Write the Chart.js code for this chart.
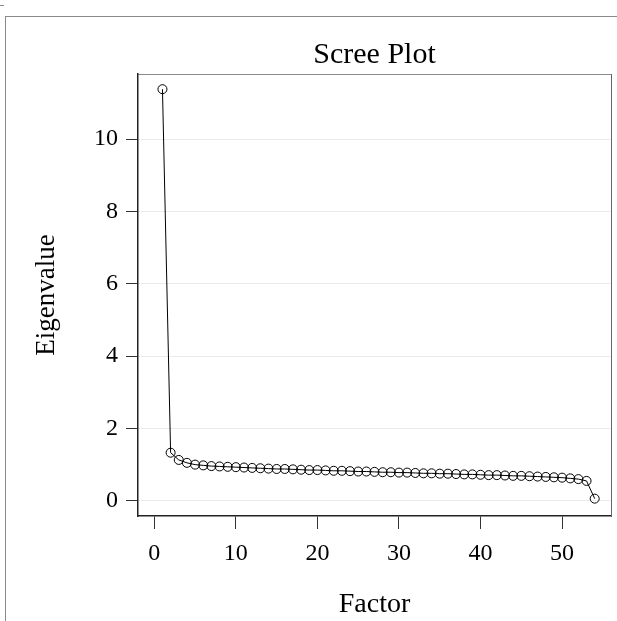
<!DOCTYPE html>
<html>
<head>
<meta charset="utf-8">
<title>Scree Plot</title>
<script src="https://cdn.jsdelivr.net/npm/chart.js@4"></script>
<style>
  html, body { margin: 0; padding: 0; background: #fff; }
  #wrap { position: relative; width: 617px; height: 621px; overflow: hidden; }
  #frame { position: absolute; left: 5px; top: 16px; width: 640px; height: 640px;
           border-top: 1px solid #8a8a8a; border-left: 1px solid #8a8a8a; }
  #dash { position: absolute; left: 0; top: 5px; width: 4px; height: 1px; background: #8a8a8a; }
  #myChart { position: absolute; left: 0; top: 0; }
</style>
</head>
<body>
<div id="wrap">
  <div id="frame"></div>
  <div id="dash"></div>
  <canvas id="myChart" width="617" height="621"></canvas>
</div>
<script>
const factors = [1, 2, 3, 4, 5, 6, 7, 8, 9, 10,
  11, 12, 13, 14, 15, 16, 17, 18, 19, 20,
  21, 22, 23, 24, 25, 26, 27, 28, 29, 30,
  31, 32, 33, 34, 35, 36, 37, 38, 39, 40,
  41, 42, 43, 44, 45, 46, 47, 48, 49, 50,
  51, 52, 53, 54];
const eigenvalues = [11.38, 1.33, 1.13, 1.05, 1.00, 0.98, 0.96, 0.95, 0.94, 0.93,
  0.92, 0.91, 0.90, 0.89, 0.88, 0.88, 0.87, 0.86, 0.85, 0.85,
  0.84, 0.83, 0.83, 0.82, 0.81, 0.81, 0.80, 0.79, 0.79, 0.78,
  0.78, 0.77, 0.76, 0.76, 0.75, 0.75, 0.74, 0.73, 0.73, 0.72,
  0.71, 0.71, 0.70, 0.69, 0.69, 0.68, 0.67, 0.66, 0.65, 0.64,
  0.62, 0.60, 0.55, 0.06];
const xTicks = [0, 10, 20, 30, 40, 50];
const yTicks = [0, 2, 4, 6, 8, 10];

const serif = "'Liberation Serif', 'Times New Roman', serif";
const ctx = document.querySelector("#myChart");

const points = factors.map((f, i) => ({ x: f, y: eigenvalues[i] }));

// fixed box sizes so the plot area lands where it should
const fixWidth = w => scale => { scale.width = w; };
const fixHeight = h => scale => { scale.height = h; };
const setTicks = list => scale => { scale.ticks = list.map(v => ({ value: v })); };

new Chart(ctx, {
  type: 'line',
  data: {
    datasets: [{
      data: points,
      borderColor: '#000',
      borderWidth: 1,
      pointRadius: 4.5,
      pointBorderColor: '#000',
      pointBorderWidth: 1,
      pointBackgroundColor: 'rgba(0,0,0,0)',
      fill: false,
      tension: 0
    }]
  },
  options: {
    responsive: false,
    animation: false,
    events: [],
    layout: { padding: 0 },
    plugins: {
      legend: { display: false },
      title: { display: false },
      tooltip: { enabled: false }
    },
    scales: {
      x: {
        type: 'linear',
        position: 'bottom',
        min: -2.0,
        max: 56.0,
        afterBuildTicks: setTicks(xTicks),
        afterFit: fixHeight(105),
        grid: { drawOnChartArea: false, drawTicks: true, tickLength: 13, tickColor: '#333', tickWidth: 1 },
        border: { display: true, color: '#222', width: 1.5 },
        ticks: { color: '#000', font: { family: serif, size: 24 }, padding: 10, maxRotation: 0 },
        title: { display: true, text: 'Factor', color: '#000', font: { family: serif, size: 28 }, padding: { top: 0, bottom: 0 } }
      },
      xTop: {
        type: 'linear',
        position: 'top',
        min: -2.0,
        max: 56.0,
        afterFit: fixHeight(74),
        grid: { display: false },
        border: { display: true, color: '#8a8a8a', width: 1 },
        ticks: { display: false },
        title: { display: true, text: 'Scree Plot', color: '#000', font: { family: serif, size: 30 }, padding: { top: 37.6, bottom: 0 } }
      },
      y: {
        type: 'linear',
        position: 'left',
        min: -0.42,
        max: 11.8,
        afterBuildTicks: setTicks(yTicks),
        afterFit: fixWidth(138),
        grid: { color: '#ebebeb', lineWidth: 1, drawTicks: true, tickLength: 12, tickColor: '#333', tickWidth: 1 },
        border: { display: true, color: '#222', width: 1.5 },
        ticks: { color: '#000', font: { family: serif, size: 24 }, padding: 8 },
        title: { display: true, text: 'Eigenvalue', color: '#000', font: { family: serif, size: 27 }, padding: { top: 31, bottom: 0 } }
      },
      yRight: {
        type: 'linear',
        position: 'right',
        min: -0.42,
        max: 11.8,
        afterFit: fixWidth(6),
        grid: { display: false },
        border: { display: true, color: '#666', width: 1 },
        ticks: { display: false }
      }
    }
  }
});
</script>
</body>
</html>
